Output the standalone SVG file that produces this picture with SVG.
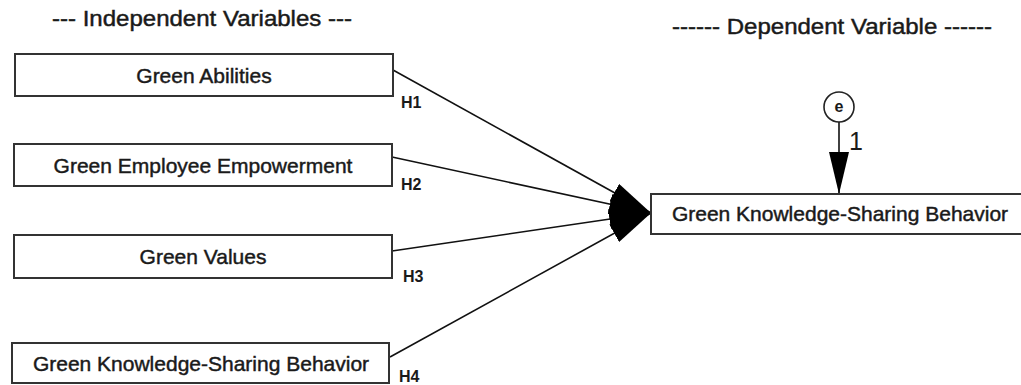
<svg xmlns="http://www.w3.org/2000/svg" width="1021" height="385" viewBox="0 0 1021 385">
<defs>
<style>
.box{fill:#fff;stroke:#333;stroke-width:2}
.lbl{font-family:"Liberation Sans",Arial,sans-serif;font-size:21px;fill:#1a1a1a;stroke:#1a1a1a;stroke-width:0.45;text-anchor:middle}
.ttl{font-family:"Liberation Sans",Arial,sans-serif;font-size:22px;fill:#1a1a1a;stroke:#1a1a1a;stroke-width:0.45}
.h{font-family:"Liberation Sans",Arial,sans-serif;font-size:16px;font-weight:bold;fill:#1a1a1a}
.edge{stroke:#111;stroke-width:1.6;fill:none;marker-end:url(#ah)}
</style>
<marker id="ah" markerUnits="userSpaceOnUse" markerWidth="42" markerHeight="20" viewBox="0 0 42 20" refX="42" refY="10" orient="auto">
<path d="M0,0 L42,10 L0,20 z" fill="#000"/>
</marker>
</defs>
<rect width="1021" height="385" fill="#fff"/>
<text class="ttl" x="52" y="26" textLength="300" lengthAdjust="spacingAndGlyphs">--- Independent Variables ---</text>
<text class="ttl" x="672" y="34" textLength="320" lengthAdjust="spacingAndGlyphs">------ Dependent Variable ------</text>
<g id="connectors">
<line class="edge" x1="393" y1="70" x2="651" y2="213"/>
<line class="edge" x1="392" y1="157" x2="651" y2="213"/>
<line class="edge" x1="392" y1="251" x2="651" y2="213"/>
<line class="edge" x1="390" y1="357" x2="651" y2="213"/>
<line class="edge" x1="839" y1="122" x2="839" y2="194"/>
<text class="h" x="401" y="108">H1</text>
<text class="h" x="401" y="190">H2</text>
<text class="h" x="403" y="282">H3</text>
<text class="h" x="399" y="382">H4</text>
<text x="849" y="150" style="font-family:'Liberation Sans',Arial,sans-serif;font-size:25px;fill:#1a1a1a">1</text>
</g>
<g id="n1"><rect class="box" x="15" y="54" width="378" height="42"/><text class="lbl" x="204" y="83">Green Abilities</text></g>
<g id="n2"><rect class="box" x="14" y="144" width="378" height="42"/><text class="lbl" x="203" y="173">Green Employee Empowerment</text></g>
<g id="n3"><rect class="box" x="14" y="235" width="378" height="43"/><text class="lbl" x="203" y="264">Green Values</text></g>
<g id="n4"><rect class="box" x="12" y="343" width="377" height="40"/><text class="lbl" x="201" y="371">Green Knowledge-Sharing Behavior</text></g>
<g id="target"><rect class="box" x="651" y="194" width="378" height="40"/><text class="lbl" x="840" y="221">Green Knowledge-Sharing Behavior</text></g>
<g id="e"><circle cx="839" cy="107" r="15" fill="#fff" stroke="#222" stroke-width="1.6"/><text x="839" y="112" text-anchor="middle" style="font-family:'Liberation Sans',Arial,sans-serif;font-size:16px;font-weight:bold;fill:#1a1a1a">e</text></g>
</svg>
